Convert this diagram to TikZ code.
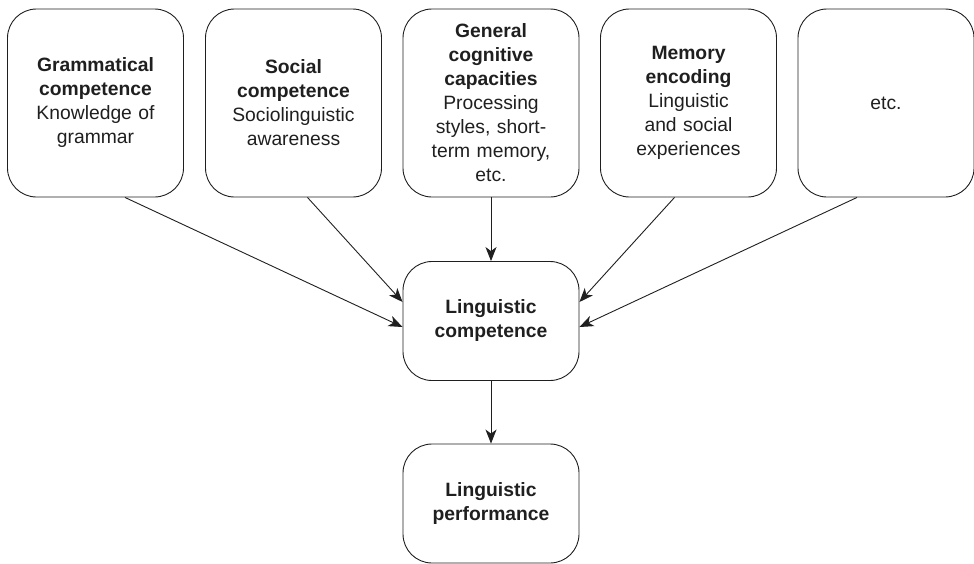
\documentclass[tikz,border=0pt]{standalone}
\usepackage{fontspec}
\setmainfont{Liberation Sans}
\usetikzlibrary{arrows.meta}
\tikzset{
  card/.style={draw=black!88, line width=0.9pt, rounded corners=29pt,
    minimum width=176pt, align=center, text width=168pt, inner sep=0pt,
    font=\fontsize{19.3}{24}\selectfont, text=black!88},
  topcard/.style={card, minimum height=188pt},
  lowcard/.style={card, minimum height=119pt},
  link/.style={draw=black!88, line width=0.9pt,
    -{Stealth[length=14pt,width=11pt,inset=4pt]}}
}
\begin{document}
\begin{tikzpicture}[x=1pt,y=-1pt]
  \useasboundingbox (0,0) rectangle (974,563);

  % upper row of contributing factors
  \node[topcard] (gram) at (95.5,103) {\textbf{Grammatical}\\\textbf{competence}\\Knowledge of\\grammar};
  \node[topcard] (soc)  at (293.5,103) {\textbf{Social}\\\textbf{competence}\\Sociolinguistic\\awareness};
  \node[topcard] (cog)  at (491,103) {\textbf{General}\\\textbf{cognitive}\\\textbf{capacities}\\Processing\\styles, short-\\term memory,\\etc.};
  \node[topcard] (mem)  at (688.5,103) {\textbf{Memory}\\\textbf{encoding}\\Linguistic\\and social\\experiences};
  \node[topcard] (etc)  at (886,103) {etc.};

  % competence and performance
  \node[lowcard] (comp) at (491,321) {\textbf{Linguistic}\\\textbf{competence}};
  \node[lowcard] (perf) at (491,503.5) {\textbf{Linguistic}\\\textbf{performance}};

  % connectors
  \draw[link] ([xshift=29.5pt]gram.south) -- ([yshift=-6pt]comp.west);
  \draw[link] ([xshift=14pt]soc.south) -- ([yshift=19pt]comp.west);
  \draw[link] (cog.south) -- (comp.north);
  \draw[link] ([xshift=-14pt]mem.south) -- ([yshift=19pt]comp.east);
  \draw[link] ([xshift=-29pt]etc.south) -- ([yshift=-6pt]comp.east);
  \draw[link] (comp.south) -- (perf.north);
\end{tikzpicture}
\end{document}
